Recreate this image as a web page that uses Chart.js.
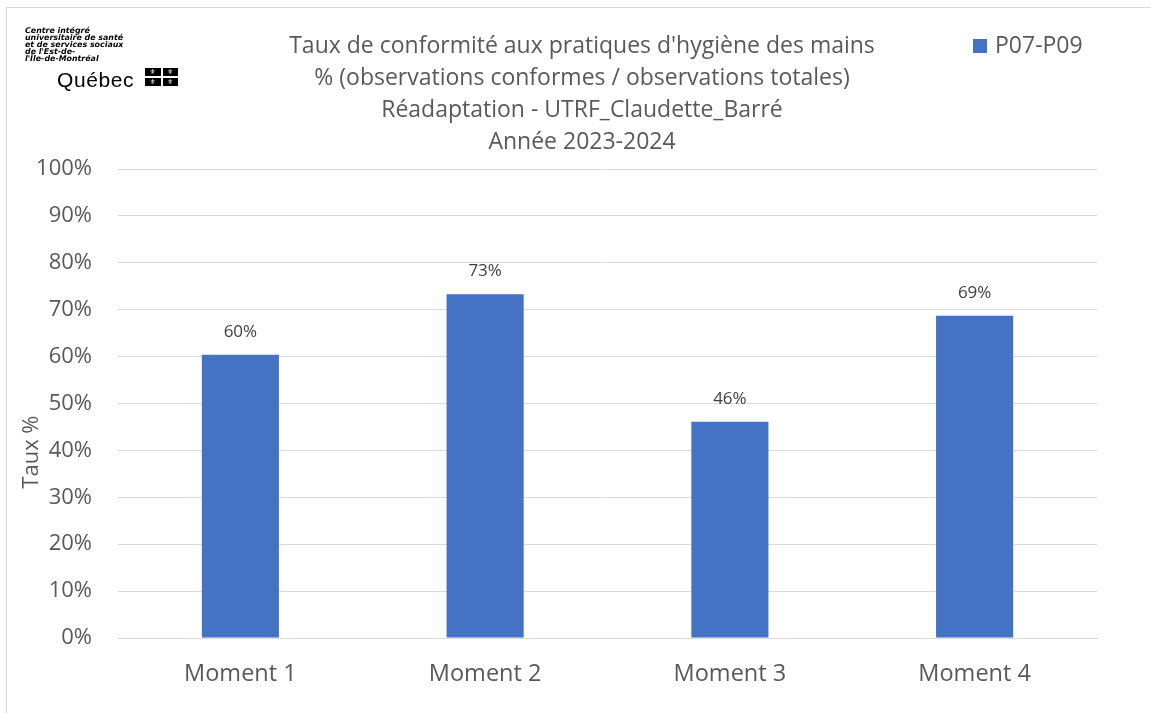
<!DOCTYPE html>
<html>
<head>
<meta charset="utf-8">
<script src="https://cdn.jsdelivr.net/npm/chart.js@4/dist/chart.umd.min.js"></script>
<style>
  html, body { margin: 0; padding: 0; background: #fff; }
  #wrap { position: relative; width: 1151px; height: 713px; overflow: hidden; }
  #frame { position: absolute; left: 6px; top: 7px; right: -2px; bottom: -2px; border-left: 1px solid #d9d9d9; border-top: 1px solid #d9d9d9; }
  canvas { position: absolute; left: 0; top: 0; }
  #logo { position: absolute; left: 25px; top: 27px; font-family: "DejaVu Sans", sans-serif; }
  #logo .small { font-size: 7.9px; font-weight: bold; font-style: italic; line-height: 7px; color: #000; white-space: nowrap; }
  #logo .qc { position: absolute; left: 32px; top: 41px; font-family: "Liberation Sans", Arial, sans-serif; font-size: 21px; letter-spacing: 0.6px; color: #000; white-space: nowrap; }
  #flag { position: absolute; left: 120px; top: 41px; width: 33px; height: 18px; display: grid; grid-template-columns: 1fr 1fr; grid-template-rows: 1fr 1fr; gap: 2px; }
  #flag div { background: #000; color: #fff; font-size: 7px; line-height: 8px; text-align: center; font-family: "DejaVu Sans", sans-serif; }
  #legend { position: absolute; left: 973px; top: 28px; font-family: "Open Sans", sans-serif; font-size: 23px; color: #595959; white-space: nowrap; }
  #legend span.box { display: inline-block; width: 14px; height: 14px; background: #4472C4; margin-right: 8px; vertical-align: 0px; }
</style>
</head>
<body>
<div id="wrap">
  <div id="frame"></div>
  <canvas id="c" width="1164" height="713"></canvas>
  <div id="logo">
    <div class="small">Centre intégré<br>universitaire de santé<br>et de services sociaux<br>de l'Est-de-<br>l'Île-de-Montréal</div>
    <div class="qc">Québec</div>
    <div id="flag"><div>⚜</div><div>⚜</div><div>⚜</div><div>⚜</div></div>
  </div>
  <div id="legend"><span class="box"></span><span id="legendText"></span></div>
</div>
<script>
const categories = ["Moment 1", "Moment 2", "Moment 3", "Moment 4"];
const seriesName = "P07-P09";
const values = [60.4, 73.3, 46.1, 68.7];
const yTicks = [0, 10, 20, 30, 40, 50, 60, 70, 80, 90, 100];
const titleLines = [
  "Taux de conformité aux pratiques d'hygiène des mains",
  "% (observations conformes / observations totales)",
  "Réadaptation - UTRF_Claudette_Barré",
  "Année 2023-2024"
];
const yTitle = "Taux %";

document.getElementById('legendText').textContent = seriesName;

const FONT = "'Open Sans'";
const GRAY = "#595959";

const dataLabels = {
  id: 'dataLabels',
  afterDatasetsDraw(chart) {
    const ctx = chart.ctx;
    const meta = chart.getDatasetMeta(0);
    ctx.save();
    ctx.font = "17px " + FONT;
    ctx.fillStyle = "#404040";
    ctx.textAlign = "center";
    ctx.textBaseline = "middle";
    meta.data.forEach((bar, i) => {
      ctx.fillText(Math.round(values[i]) + "%", bar.x, bar.y - 23);
    });
    ctx.restore();
  }
};

new Chart(document.getElementById('c'), {
  type: 'bar',
  data: {
    labels: categories,
    datasets: [{
      label: seriesName,
      data: values,
      backgroundColor: "#4472C4",
      borderWidth: 0,
      categoryPercentage: 1,
      barPercentage: 0.315
    }]
  },
  options: {
    responsive: false,
    animation: false,
    devicePixelRatio: 1,
    layout: { padding: 0 },
    plugins: {
      legend: { display: false },
      tooltip: { enabled: false },
      title: {
        display: true,
        text: titleLines,
        color: GRAY,
        font: { family: "Open Sans", size: 23, weight: 'normal', lineHeight: '32px' },
        padding: { top: 30, bottom: 11 }
      }
    },
    scales: {
      x: {
        grid: { display: false, drawTicks: false },
        border: { display: true, color: "#d9d9d9", width: 1 },
        ticks: { color: GRAY, font: { family: "Open Sans", size: 23.5 }, padding: 22 },
        afterFit(scale) { scale.height = 75; }
      },
      y: {
        min: 0, max: 100,
        afterBuildTicks(scale) { scale.ticks = yTicks.map(v => ({ value: v })); },
        grid: { color: "#d9d9d9", lineWidth: 1, drawTicks: false },
        border: { display: false },
        ticks: { color: GRAY, font: { family: "Open Sans", size: 22 }, padding: 26, callback: v => v + "%" },
        title: {
          display: true,
          text: yTitle + "                 ",
          color: GRAY,
          font: { family: "Open Sans", size: 22 },
          padding: { top: 19, bottom: 0 }
        },
        afterFit(scale) { scale.width = 118; }
      },
      yRight: {
        position: 'right',
        display: true,
        min: 0, max: 100,
        grid: { display: false, drawTicks: false },
        border: { display: false },
        ticks: { display: false },
        afterFit(scale) { scale.width = 67; }
      }
    }
  },
  plugins: [dataLabels]
});
</script>
</body>
</html>
